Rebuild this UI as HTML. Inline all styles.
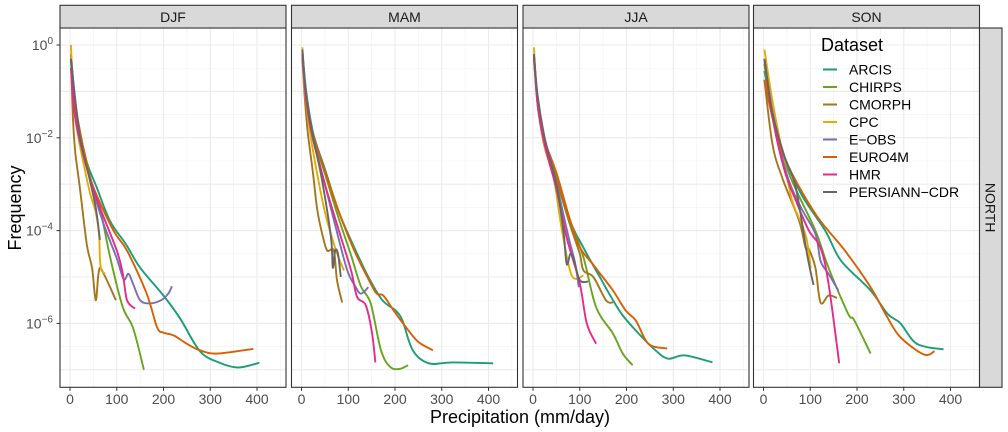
<!DOCTYPE html>
<html><head><meta charset="utf-8">
<style>
body{margin:0;background:#fff;}
svg{display:block;font-family:"Liberation Sans",Arial,sans-serif;}
</style></head>
<body>
<svg id="chart" width="1008" height="432" viewBox="0 0 1008 432" xmlns="http://www.w3.org/2000/svg"></svg>
<script>
// ---- data: [precipitation mm/day, log10(frequency)] ----
const seasons = ["DJF","MAM","JJA","SON"];
const datasets = ["ARCIS","CHIRPS","CMORPH","CPC","E-OBS","EURO4M","HMR","PERSIANN-CDR"];
const colors = ["#1B9E77","#66A61E","#A6761D","#E6AB02","#7570B3","#D95F02","#E7298A","#666666"];
const xTicks = [0,100,200,300,400];
const yTickExp = [0,-2,-4,-6];

const djfARCIS = [[2,-0.2],[10,-1.1],[20,-1.8],[35,-2.5],[57,-3.07],[86,-3.8],[120,-4.3],[150,-4.8],[200,-5.4],[236,-5.9],[278,-6.6],[320,-6.85],[360,-6.95],[405,-6.85]];
const djfCHIRPS = [[2,-0.3],[10,-1.2],[20,-1.85],[35,-2.6],[50,-3.1],[64,-3.5],[86,-4.58],[113,-5.65],[135,-6.1],[158,-7.0]];
const djfCMORPH = [[2,-0.2],[6,-1.5],[11,-2.28],[21,-3.07],[36,-4.3],[47,-4.8],[55,-5.5],[60,-5.0],[64,-4.8],[72,-4.93],[85,-5.2],[98,-5.5]];
const djfCPC = [[2,0],[6,-0.8],[15,-1.8],[30,-2.6],[43,-3.2],[55,-3.6],[62,-4.07],[64,-4.6],[67,-4.85],[75,-4.93]];
const djfEOBS = [[2,-0.3],[10,-1.2],[20,-1.85],[40,-2.8],[70,-3.8],[100,-4.6],[115,-5.05],[125,-4.93],[135,-5.15],[150,-5.5],[170,-5.57],[195,-5.5],[210,-5.36],[218,-5.2]];
const djfEURO4M = [[2,-0.3],[10,-1.2],[20,-1.8],[35,-2.5],[50,-3.07],[93,-4.0],[122,-4.43],[164,-5.36],[186,-6.08],[200,-6.2],[222,-6.26],[250,-6.44],[278,-6.58],[314,-6.65],[392,-6.55]];
const djfHMR = [[2,-0.5],[10,-1.5],[21,-2.06],[40,-2.8],[64,-3.5],[100,-4.43],[113,-4.93],[122,-5.5],[139,-5.68]];
const djfPERSIANN = [[2,-0.3],[20,-1.9],[40,-2.8],[55,-3.5],[64,-4.2]];

const mamARCIS = [[2,-0.13],[10,-1.0],[25,-1.9],[51,-2.7],[80,-3.6],[109,-4.28],[143,-5.0],[173,-5.5],[201,-5.72],[216,-5.94],[238,-6.58],[272,-6.86],[323,-6.84],[410,-6.86]];
const mamCHIRPS = [[2,-0.2],[10,-1.1],[25,-1.95],[51,-2.8],[80,-3.75],[105,-4.5],[127,-5.2],[148,-5.57],[170,-6.58],[190,-6.94],[210,-6.98],[228,-6.9]];
const mamCMORPH = [[2,-0.3],[6,-1.0],[13,-1.85],[25,-2.8],[34,-3.57],[45,-4.1],[55,-4.43],[69,-4.43],[76,-5.07],[87,-5.55]];
const mamCPC = [[2,-0.05],[7,-1.0],[20,-2.0],[34,-2.8],[50,-3.6],[69,-4.28],[80,-4.6],[91,-4.86]];
const mamEOBS = [[2,-0.2],[10,-1.1],[25,-2.0],[50,-3.0],[75,-4.0],[98,-4.86],[115,-5.2],[127,-5.36],[143,-5.22]];
const mamEURO4M = [[2,-0.2],[10,-1.1],[25,-1.95],[51,-2.75],[80,-3.6],[113,-4.43],[148,-5.14],[161,-5.36],[175,-5.4],[197,-5.72],[224,-6.09],[250,-6.4],[281,-6.58]];
const mamHMR = [[2,-0.2],[10,-1.2],[25,-2.05],[50,-3.0],[80,-4.0],[106,-4.86],[119,-5.43],[137,-5.6],[150,-6.15],[158,-6.84]];
const mamPERSIANN = [[2,-0.1],[10,-1.1],[25,-2.0],[43,-2.86],[63,-4.15],[67,-4.8],[72,-4.43],[78,-4.5],[84,-5.0]];

const jjaARCIS = [[2,-0.2],[10,-1.2],[25,-2.1],[51,-2.8],[80,-3.8],[108,-4.37],[140,-4.95],[171,-5.5],[192,-5.83],[226,-6.22],[262,-6.58],[289,-6.76],[325,-6.69],[384,-6.84]];
const jjaCHIRPS = [[2,-0.2],[10,-1.2],[25,-2.1],[51,-2.85],[80,-3.8],[108,-4.58],[135,-5.65],[171,-6.22],[192,-6.65],[213,-6.9]];
const jjaCMORPH = [[2,-0.3],[10,-1.3],[25,-2.2],[51,-2.95],[80,-3.9],[100,-4.5],[108,-4.86],[129,-5.0],[156,-5.5],[171,-5.55]];
const jjaCPC = [[2,-0.05],[10,-1.3],[25,-2.2],[45,-2.9],[62,-4.0],[83,-4.97],[108,-4.97]];
const jjaEOBS = [[2,-0.2],[10,-1.2],[25,-2.1],[50,-3.0],[75,-4.1],[90,-4.7],[98,-5.22]];
const jjaEURO4M = [[2,-0.3],[10,-1.2],[25,-2.05],[51,-2.78],[93,-4.2],[130,-4.75],[171,-5.29],[198,-5.72],[220,-5.94],[247,-6.44],[287,-6.54]];
const jjaHMR = [[2,-0.2],[10,-1.3],[25,-2.15],[50,-3.1],[72,-4.15],[100,-5.14],[115,-6.0],[135,-6.44]];
const jjaPERSIANN = [[2,-0.2],[10,-1.1],[25,-2.0],[50,-3.0],[65,-4.0],[72,-4.72],[80,-4.5],[88,-4.65],[100,-5.07],[118,-5.1]];

const sonARCIS = [[2,-0.56],[20,-1.5],[40,-2.28],[80,-3.2],[132,-4.0],[166,-4.65],[229,-5.29],[265,-5.79],[293,-6.0],[328,-6.44],[385,-6.56]];
const sonCHIRPS = [[2,-0.4],[20,-1.6],[55,-2.78],[111,-4.0],[139,-4.8],[181,-5.79],[194,-5.93],[229,-6.65]];
const sonCMORPH = [[2,-0.75],[19,-2.13],[40,-2.86],[76,-3.78],[90,-4.37],[97,-4.4],[111,-4.8],[122,-5.55],[139,-5.4],[157,-5.45]];
const sonCPC = [[2,-0.1],[19,-1.2],[40,-2.3],[61,-3.35],[82,-3.86],[93,-4.22],[101,-4.82]];
const sonEOBS = [[2,-0.3],[20,-1.5],[50,-2.8],[80,-3.5],[111,-4.07],[122,-4.65],[139,-4.93],[160,-5.29]];
const sonEURO4M = [[2,-0.75],[20,-1.6],[48,-2.5],[111,-3.64],[174,-4.43],[229,-5.22],[265,-5.87],[293,-6.3],[343,-6.67],[366,-6.6]];
const sonHMR = [[2,-0.3],[20,-1.6],[45,-2.7],[69,-3.35],[97,-4.0],[122,-4.37],[139,-5.14],[162,-6.86]];
const sonPERSIANN = [[2,-0.3],[20,-1.5],[45,-2.4],[69,-3.07],[93,-4.5],[107,-5.17]];

const seriesBySeason = [
 [djfARCIS,djfCHIRPS,djfCMORPH,djfCPC,djfEOBS,djfEURO4M,djfHMR,djfPERSIANN],
 [mamARCIS,mamCHIRPS,mamCMORPH,mamCPC,mamEOBS,mamEURO4M,mamHMR,mamPERSIANN],
 [jjaARCIS,jjaCHIRPS,jjaCMORPH,jjaCPC,jjaEOBS,jjaEURO4M,jjaHMR,jjaPERSIANN],
 [sonARCIS,sonCHIRPS,sonCMORPH,sonCPC,sonEOBS,sonEURO4M,sonHMR,sonPERSIANN]
];

// ---- layout ----
const NS = "http://www.w3.org/2000/svg";
const svg = document.getElementById("chart");
const panelLefts = [60, 291.5, 523, 753.5];
const panelW = 226, plotTop = 28, plotBottom = 387.3, stripTop = 5.3;
const xMin = -21.4, xMax = 462;
function xScale(p, v){ return panelLefts[p] + (v - xMin) / (xMax - xMin) * panelW; }
function yScale(l){ return 45 - l * 46.4; }

function mk(tag, attrs, parent){
  const e = document.createElementNS(NS, tag);
  for (const k in attrs) e.setAttribute(k, attrs[k]);
  (parent || svg).appendChild(e);
  return e;
}
function smoothPath(P){
  if (P.length < 3) return P.map((q,j)=>(j?"L":"M")+q[0].toFixed(1)+","+q[1].toFixed(1)).join(" ");
  let d = "M" + P[0][0].toFixed(1) + "," + P[0][1].toFixed(1);
  for (let i = 0; i < P.length - 1; i++) {
    const p0 = P[i-1] || P[i], p1 = P[i], p2 = P[i+1], p3 = P[i+2] || P[i+1];
    const t = 1/6;
    const c1 = [p1[0] + (p2[0]-p0[0])*t, p1[1] + (p2[1]-p0[1])*t];
    const c2 = [p2[0] - (p3[0]-p1[0])*t, p2[1] - (p3[1]-p1[1])*t];
    d += " C" + c1[0].toFixed(1) + "," + c1[1].toFixed(1) + " " + c2[0].toFixed(1) + "," + c2[1].toFixed(1) + " " + p2[0].toFixed(1) + "," + p2[1].toFixed(1);
  }
  return d;
}

seasons.forEach((s, p) => {
  const L = panelLefts[p];
  const g = mk("g", {});
  
  
  mk("rect", {x:L, y:plotTop, width:panelW, height:plotBottom-plotTop, fill:"#fff"}, g);
  for (let e = 0.5; e >= -7.5; e -= 1) {
    const y = yScale(e);
    if (y > plotTop && y < plotBottom) mk("line", {x1:L, x2:L+panelW, y1:y, y2:y, stroke:"#f2f2f2", "stroke-width":0.6}, g);
  }
  for (let v = 50; v <= 450; v += 100) {
    const x = xScale(p, v);
    mk("line", {x1:x, x2:x, y1:plotTop, y2:plotBottom, stroke:"#f2f2f2", "stroke-width":0.6}, g);
  }
  for (let e = 0; e >= -7; e -= 1) {
    const y = yScale(e);
    mk("line", {x1:L, x2:L+panelW, y1:y, y2:y, stroke:"#ebebeb", "stroke-width":1.1}, g);
  }
  xTicks.forEach(v => {
    const x = xScale(p, v);
    mk("line", {x1:x, x2:x, y1:plotTop, y2:plotBottom, stroke:"#ebebeb", "stroke-width":1.1}, g);
    mk("line", {x1:x, x2:x, y1:plotBottom, y2:plotBottom+3.5, stroke:"#333", "stroke-width":1}, g);
    const t = mk("text", {x:x, y:404, "text-anchor":"middle", "font-size":14, fill:"#4d4d4d"}, g);
    t.textContent = v;
    
    
  });
  seriesBySeason[p].forEach((pts, i) => {
    const P = pts.map(q => [xScale(p, q[0]), yScale(q[1])]);
    const path = mk("path", {d:smoothPath(P), fill:"none", stroke:colors[i], "stroke-width":1.9, "stroke-linejoin":"round", "stroke-linecap":"butt"}, g);
    
    
  });
  mk("rect", {x:L, y:plotTop, width:panelW, height:plotBottom-plotTop, fill:"none", stroke:"#333", "stroke-width":1.1}, g);
  const st = mk("rect", {x:L, y:stripTop, width:panelW, height:plotTop-stripTop, fill:"#d9d9d9", stroke:"#333", "stroke-width":1.1}, g);
  
  
  const tt = mk("text", {x:L+panelW/2, y:22, "text-anchor":"middle", "font-size":14, fill:"#1a1a1a"}, g);
  tt.textContent = s;
  
  
});

const rs = mk("rect", {x:979.5, y:plotTop, width:22.5, height:plotBottom-plotTop, fill:"#d9d9d9", stroke:"#333", "stroke-width":1.1});


const rt = mk("text", {x:0, y:0, "text-anchor":"middle", "font-size":14, fill:"#1a1a1a", transform:"translate(985.5,207.6) rotate(90)"});
rt.textContent = "NORTH";



yTickExp.forEach(e => {
  const y = yScale(e);
  mk("line", {x1:56.5, x2:60, y1:y, y2:y, stroke:"#333", "stroke-width":1});
  const t = mk("text", {x:53, y:y+5, "text-anchor":"end", "font-size":14, fill:"#4d4d4d"});
  
  
  const a = document.createElementNS(NS, "tspan"); a.textContent = "10"; t.appendChild(a);
  const b = document.createElementNS(NS, "tspan"); b.setAttribute("dy", -6); b.setAttribute("font-size", 10);
  b.textContent = e === 0 ? "0" : "\u2212" + (-e); t.appendChild(b);
});
const yt = mk("text", {x:0, y:0, "text-anchor":"middle", "font-size":18, fill:"#000", transform:"translate(21,208) rotate(-90)"});
yt.textContent = "Frequency";


const xt = mk("text", {x:520, y:423, "text-anchor":"middle", "font-size":18, fill:"#000"});
xt.textContent = "Precipitation (mm/day)";



const lg = mk("g", {});


const lt = mk("text", {x:821, y:51, "font-size":18, fill:"#000"}, lg);
lt.textContent = "Dataset";


datasets.forEach((d, i) => {
  const y = 69.5 + i * 17.5;
  const ln = mk("line", {x1:823, x2:837, y1:y, y2:y, stroke:colors[i], "stroke-width":2}, lg);
  
  
  const t = mk("text", {x:849, y:y+5, "font-size":14, fill:"#000"}, lg);
  t.textContent = d.replace("-", "\u2212");
  
  
});
</script>
</body></html>
